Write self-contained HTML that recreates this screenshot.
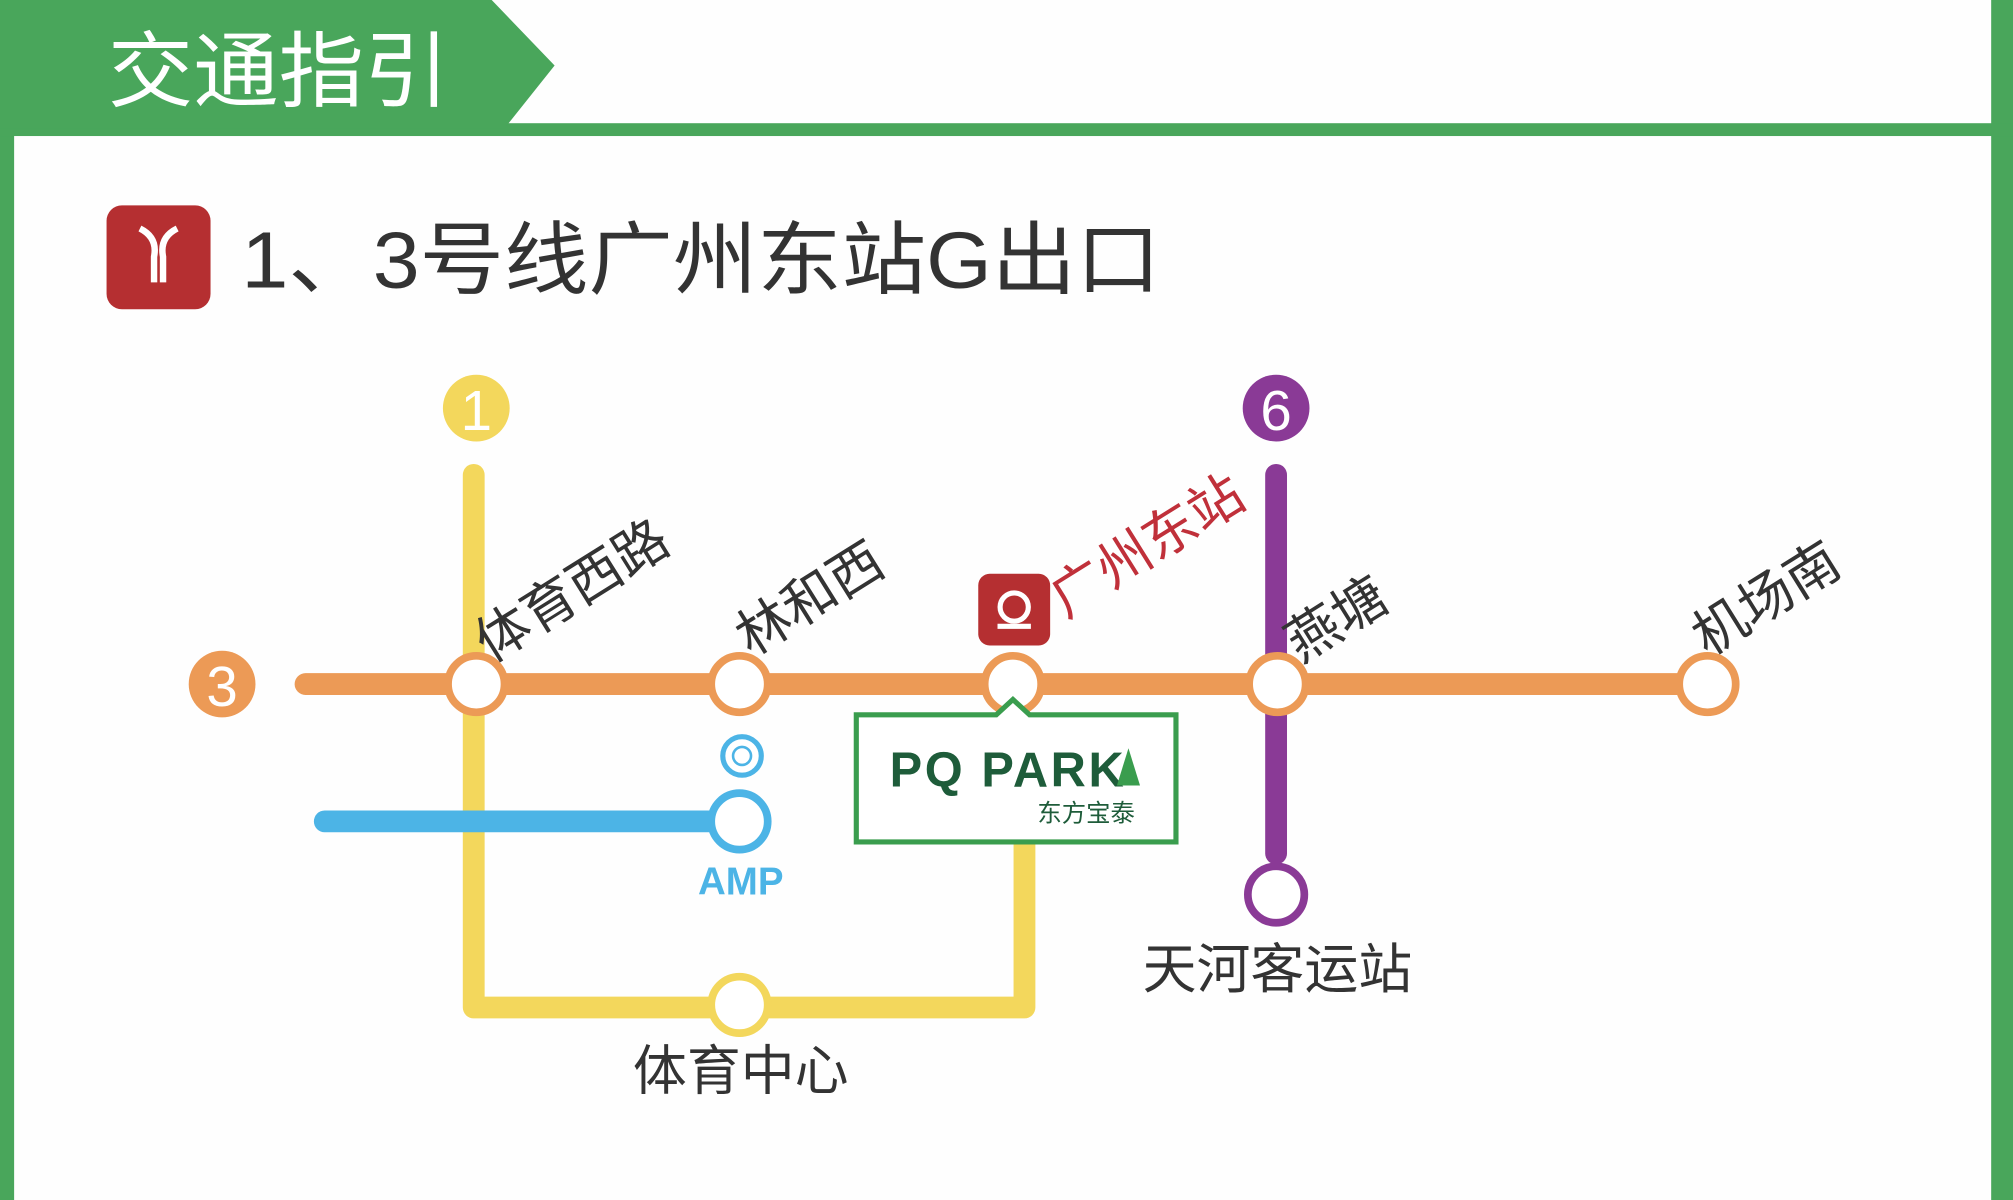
<!DOCTYPE html>
<html><head><meta charset="utf-8"><style>
html,body{margin:0;padding:0;background:#fff;}
svg{display:block;}
text{font-family:"Liberation Sans","Noto Sans CJK SC",sans-serif;}
</style></head><body>
<svg width="2013" height="1200" viewBox="0 0 1568 935" preserveAspectRatio="none" xmlns="http://www.w3.org/2000/svg">
<rect width="1568" height="935" fill="#fefefe"/>
<rect x="0" y="0" width="11" height="935" fill="#49a65b"/>
<rect x="1551" y="0" width="17" height="935" fill="#49a65b"/>
<rect x="0" y="96" width="1568" height="10" fill="#49a65b"/>
<polygon points="0,0 383,0 432,51 393,100 0,100" fill="#49a65b"/>
<text x="84" y="78" font-size="64" fill="#fff" textLength="266" lengthAdjust="spacingAndGlyphs">交通指引</text>
<rect x="83" y="160" width="81" height="81" rx="12" fill="#b52f31"/>
<path d="M109,178 Q123,185 120,200 L120,220 M138,178 Q124,185 127,200 L127,220" stroke="#fff" stroke-width="5" fill="none"/>
<text x="188" y="224" font-size="62" fill="#333" textLength="716" lengthAdjust="spacingAndGlyphs">1、3号线广州东站G出口</text>
<path d="M369,370 L369,785 L798,785 L798,655" stroke="#f3d75c" stroke-width="17" fill="none" stroke-linecap="round" stroke-linejoin="round"/>
<path d="M994,370 L994,665" stroke="#8a3a96" stroke-width="17" stroke-linecap="round"/>
<path d="M253,640 L560,640" stroke="#4cb4e6" stroke-width="17" stroke-linecap="round"/>
<path d="M238,533 L1330,533" stroke="#ec9a56" stroke-width="17" stroke-linecap="round"/>
<circle cx="371" cy="318" r="26" fill="#f3d75c"/><text x="371" y="335" font-size="44" fill="#fff" text-anchor="middle">1</text>
<circle cx="994" cy="318" r="26" fill="#8a3a96"/><text x="994" y="335" font-size="44" fill="#fff" text-anchor="middle">6</text>
<circle cx="173" cy="533" r="26" fill="#ec9a56"/><text x="173" y="550" font-size="44" fill="#fff" text-anchor="middle">3</text>
<g fill="#fff" stroke="#ec9a56" stroke-width="6">
<circle cx="371" cy="533" r="22"/><circle cx="576" cy="533" r="22"/><circle cx="789" cy="533" r="22"/><circle cx="995" cy="533" r="22"/><circle cx="1330" cy="533" r="22"/>
</g>
<circle cx="576" cy="640" r="22" fill="#fff" stroke="#4cb4e6" stroke-width="6"/>
<circle cx="576" cy="783" r="22" fill="#fff" stroke="#f3d75c" stroke-width="6"/>
<circle cx="994" cy="697" r="22" fill="#fff" stroke="#8a3a96" stroke-width="6"/>
<circle cx="578" cy="589" r="15" fill="#fff" stroke="#4cb4e6" stroke-width="4"/>
<circle cx="578" cy="589" r="7" fill="none" stroke="#4cb4e6" stroke-width="2"/>
<text x="577" y="697" font-size="30" font-weight="bold" fill="#4cb4e6" text-anchor="middle">AMP</text>
<path d="M667,557 L776,557 L789,545 L802,557 L916,557 L916,656 L667,656 Z" fill="#fff" stroke="#3a9d4e" stroke-width="4"/>
<text x="693" y="613" font-size="38" font-weight="bold" fill="#1e5c3a" letter-spacing="2">PQ PARK</text>
<polygon points="870,612 888,612 879,583" fill="#3a9d4e"/>
<text x="846" y="640" font-size="19" fill="#1e5c3a" text-anchor="middle">东方宝泰</text>
<rect x="762" y="447" width="56" height="56" rx="9" fill="#b52f31"/>
<circle cx="790" cy="473" r="11" fill="none" stroke="#fff" stroke-width="4"/>
<rect x="777" y="486" width="26" height="4" fill="#fff"/>
<g font-size="42" fill="#333">
<text transform="translate(382,517) rotate(-32)">体育西路</text>
<text transform="translate(585,512) rotate(-32)">林和西</text>
<text transform="translate(1013,517) rotate(-32)">燕塘</text>
<text transform="translate(1330,512) rotate(-32)">机场南</text>
<text transform="translate(830,482) rotate(-32)" fill="#c0303a">广州东站</text>
</g>
<text x="995" y="770" font-size="42" fill="#333" text-anchor="middle">天河客运站</text>
<text x="577" y="849" font-size="42" fill="#333" text-anchor="middle">体育中心</text>
</svg>
</body></html>
